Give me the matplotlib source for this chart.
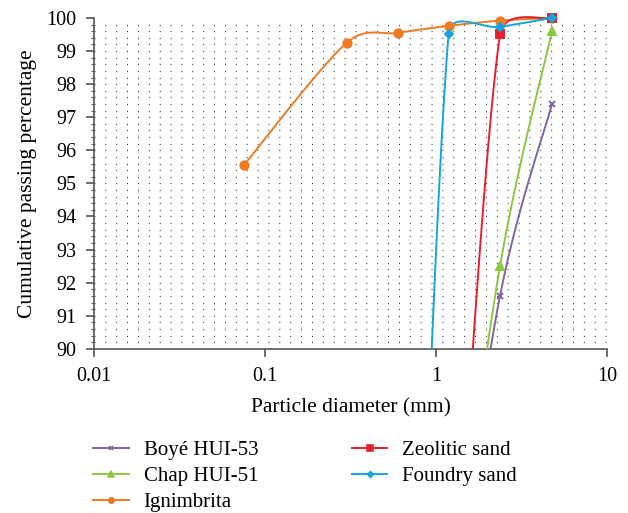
import numpy as np
import matplotlib.pyplot as plt
from matplotlib.patches import Rectangle
from matplotlib.ticker import FixedLocator, MultipleLocator

plt.rcParams['font.family'] = ['Liberation Serif', 'DejaVu Serif']

# sieve sizes (mm) and cumulative passing (%)
boye_x = [1.18, 2.36, 4.75]
boye_y = [81.5, 91.6, 97.4]
chap_x = [1.18, 2.36, 4.75]
chap_y = [81.5, 92.5, 99.6]
ign_x = [0.075, 0.3, 0.6, 1.18, 2.36, 4.75]
ign_y = [95.55, 99.25, 99.55, 99.76, 99.92, 100.0]
zeo_x = [1.18, 2.36, 4.75]
zeo_y = [79.0, 99.5, 100.0]
fou_x = [0.6, 1.18, 2.36, 4.75]
fou_y = [63.0, 99.5, 99.73, 100.0]

series = [
    ('Boyé HUI-53', boye_x, boye_y, '#8064a2', 'x', 5),
    ('Chap HUI-51', chap_x, chap_y, '#8dc63f', '^', 6),
    ('Ignimbrita', ign_x, ign_y, '#ee7b22', 'o', 6),
    ('Zeolitic sand', zeo_x, zeo_y, '#e4202e', 's', 6),
    ('Foundry sand', fou_x, fou_y, '#13a5dc', 'D', 4.5),
]

# scale factors so smoothing is done in roughly screen-like space
SX, SY = 171.0, 33.1


def arm(d, L, cap=0.5):
    n = np.hypot(*d)
    if n > cap * L:
        d = d * cap * L / n
    return d


def smooth(xs, ys, n=40):
    # spreadsheet-style smoothed line: catmull-rom bezier, arms capped by segment length
    u = np.log10(xs) * SX
    v = np.asarray(ys) * SY
    p = np.column_stack([u, v])
    out = [p[0]]
    for i in range(len(p) - 1):
        p0 = p[i - 1] if i > 0 else p[i]
        p1, p2 = p[i], p[i + 1]
        p3 = p[i + 2] if i + 2 < len(p) else p[i + 1]
        L = np.hypot(*(p2 - p1))
        c1 = p1 + arm((p2 - p0) / 6, L)
        c2 = p2 - arm((p3 - p1) / 6, L)
        t = np.linspace(0, 1, n)[1:, None]
        seg = ((1 - t) ** 3) * p1 + 3 * ((1 - t) ** 2) * t * c1 + 3 * (1 - t) * t ** 2 * c2 + t ** 3 * p2
        out.extend(seg)
    out = np.array(out)
    return 10 ** (out[:, 0] / SX), out[:, 1] / SY


fig = plt.figure(figsize=(6.28, 5.13), dpi=100)
ax = fig.add_axes([0.150, 0.320, 0.817, 0.645])

ax.set_xscale('log')
ax.set_xlim(0.01, 10)
ax.set_ylim(90, 100)

# dotted background grid
for yv in np.arange(90.2, 100.0, 0.2):
    ax.axhline(yv, color='#222222', lw=0.9, ls=(0, (0.7, 8.0)), zorder=0)

clip = Rectangle((0, 0), 1, 1.02, transform=ax.transAxes, visible=False)
ax.add_patch(clip)

for name, xs, ys, c, m, ms in series:
    sx, sy = smooth(xs, ys)
    ln, = ax.plot(sx, sy, color=c, lw=1.4, zorder=3)
    ln.set_clip_path(clip)
    ax.plot(xs, ys, ls='none', marker=m, color=c, ms=ms, mew=1.4, zorder=4, clip_on=False)
    ax.plot([], [], color=c, lw=1.4, marker=m, ms=ms * 0.65, mew=1.2, label=name)

ax.xaxis.set_major_locator(FixedLocator([0.01, 0.1, 1, 10]))
ax.set_xticklabels(['0.01', '0.1', '1', '10'])
ax.xaxis.set_minor_locator(FixedLocator([]))
ax.yaxis.set_major_locator(MultipleLocator(1))
ax.yaxis.set_minor_locator(MultipleLocator(0.2))

for s in ['top', 'right']:
    ax.spines[s].set_visible(False)
for s in ['left', 'bottom']:
    ax.spines[s].set_color('#555555')
    ax.spines[s].set_linewidth(1.2)

ax.tick_params(axis='both', which='major', length=6, width=1.2, color='#555555', labelsize=14.5)
ax.tick_params(axis='x', which='major', pad=7)
ax.tick_params(axis='y', which='major', pad=6.5)
ax.tick_params(axis='y', which='minor', length=2.5, width=0.8, color='#555555')

ax.set_xlabel('Particle diameter (mm)', fontsize=15.5, labelpad=9)
ax.set_ylabel('Cumulative passing percentage', fontsize=15.5, labelpad=7)

fig.legend(loc='upper left', bbox_to_anchor=(0.135, 0.158), ncol=2, frameon=False,
           fontsize=15, handlelength=1.7, handletextpad=0.72, columnspacing=4.5,
           labelspacing=0.32, borderaxespad=0)

fig.savefig('out.png', dpi=100)
